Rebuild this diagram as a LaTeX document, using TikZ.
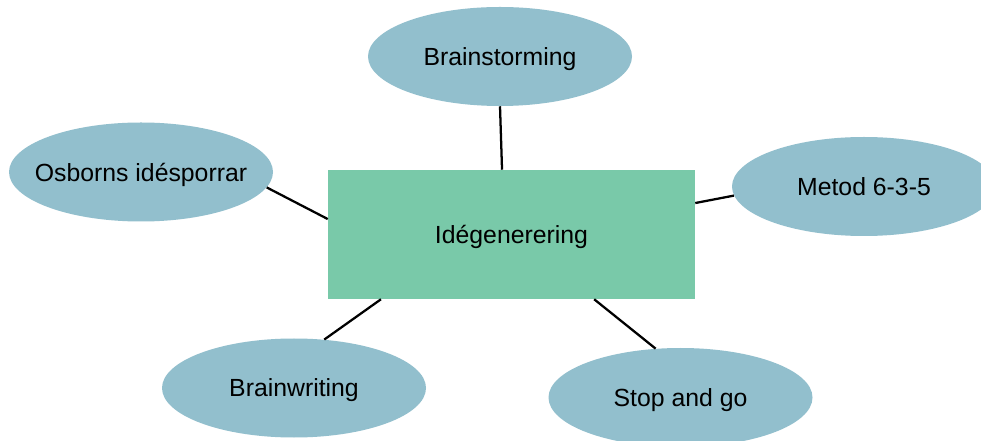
\documentclass[tikz,border=0pt]{standalone}
\usepackage{fontspec}
\setmainfont{Liberation Sans}
\usetikzlibrary{shapes.geometric}
\definecolor{ellfill}{HTML}{92BFCD}
\definecolor{rectfill}{HTML}{79C9A9}
\tikzset{
  oval/.style={ellipse, fill=ellfill, minimum width=198pt, minimum height=74.25pt, inner sep=0pt, text depth=0pt, font=\fontsize{18.6pt}{22pt}\selectfont},
  centerbox/.style={rectangle, fill=rectfill, minimum width=275.25pt, minimum height=96.75pt, inner sep=0pt, text depth=0pt, font=\fontsize{18.6pt}{22pt}\selectfont},
  link/.style={line width=1.7pt, black}
}
\begin{document}
\begin{tikzpicture}[x=0.75pt, y=-0.75pt]
\useasboundingbox (0,0) rectangle (981,441);
\clip (0,0) rectangle (981,441);
\fill[white] (0,0) rectangle (981,441);
\node[centerbox] (rect) at (511.5,234.5) {Idégenerering};
\node[oval] (bs) at (500,56.5) {Brainstorming};
\node[oval, inner xsep=-13pt] (osb) at (141,172) {Osborns idésporrar};
\node[oval] (met) at (864,186.5) {Metod 6-3-5};
\node[oval] (bw) at (294,388) {Brainwriting};
\node[oval] (sg) at (680.5,397.5) {Stop and go};
\draw[link] (bs.south) -- ([xshift=-7.1pt]rect.north);
\draw[link] (osb.-7) -- ([yshift=11.6pt]rect.west);
\draw[link] (met.184) -- ([yshift=23.6pt]rect.east);
\draw[link] (bw.58) -- ([xshift=-97.9pt]rect.south);
\draw[link] (sg.117) -- ([xshift=62pt]rect.south);
\end{tikzpicture}
\end{document}
